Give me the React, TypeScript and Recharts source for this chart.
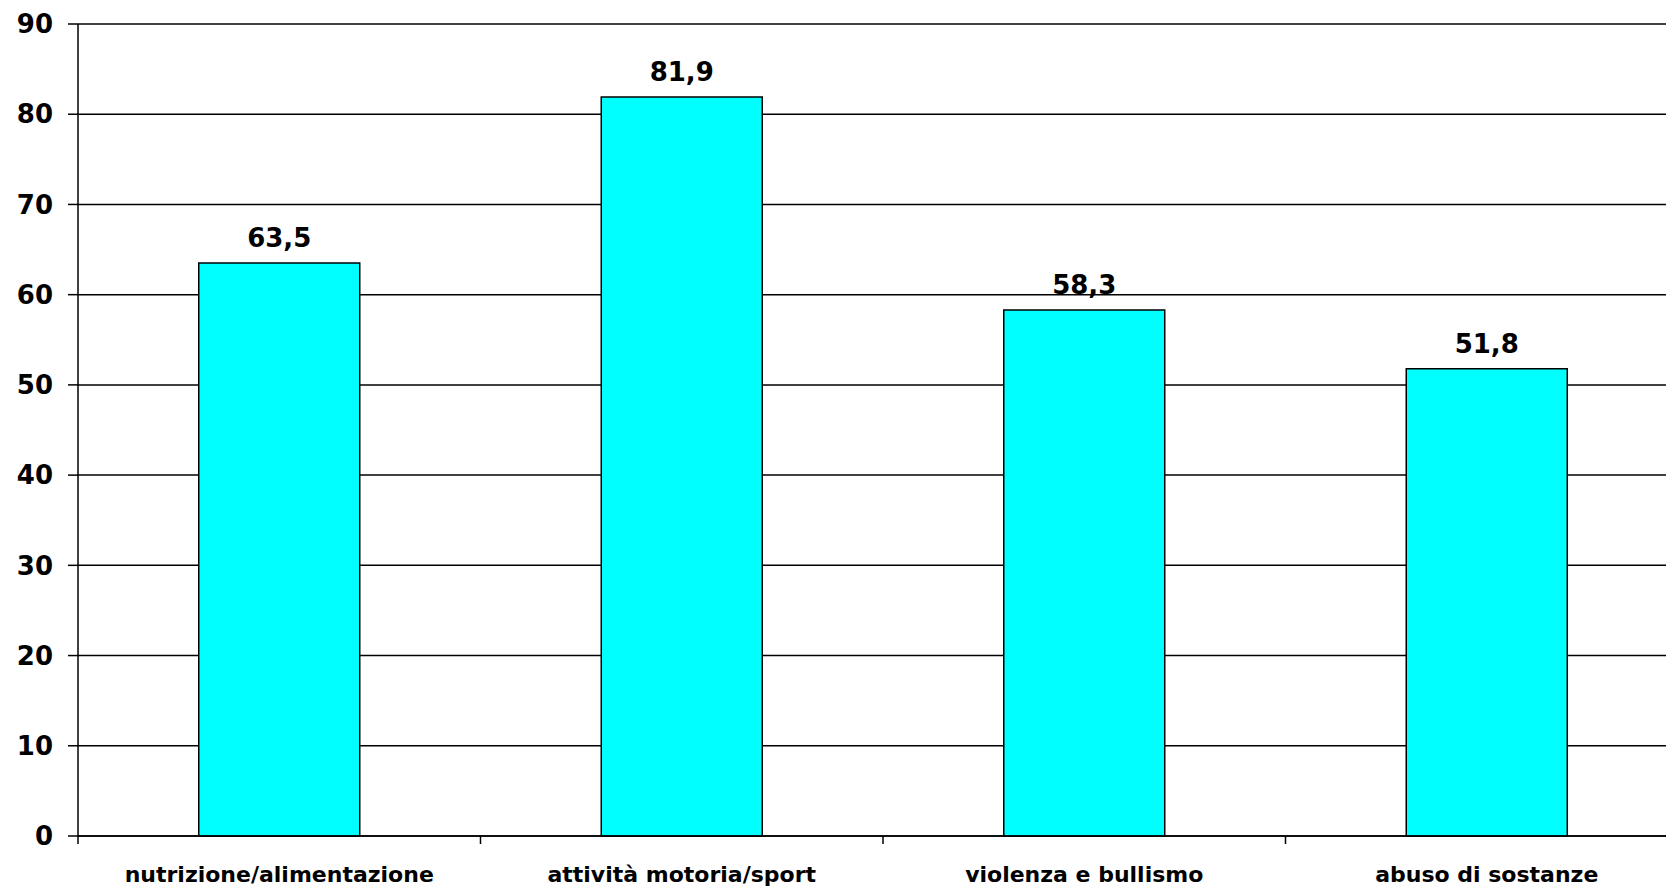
import React from 'react';
import { BarChart, Bar, XAxis, YAxis, CartesianGrid, LabelList } from 'recharts';

const categories = ['nutrizione/alimentazione', 'attività motoria/sport', 'violenza e bullismo', 'abuso di sostanze'];
const percentages = [63.5, 81.9, 58.3, 51.8];
const yTicks = [0, 10, 20, 30, 40, 50, 60, 70, 80, 90];
const boundaryTicks = [0, 1, 2, 3, 4];

const data = categories.map((name, i) => ({ name, value: percentages[i], pos: i + 0.5 }));

const font = '"DejaVu Sans", Verdana, sans-serif';

const formatComma = (v: any) => String(v).replace('.', ',');

export default function App() {
  return (
    <div style={{ position: 'fixed', left: 0, top: 0, width: 1666, height: 888, overflow: 'hidden', background: '#fff' }}>
      <BarChart
        width={1700}
        height={888}
        data={data}
        margin={{ top: 24, right: 12, left: 0, bottom: 0 }}
        barCategoryGap="30%"
      >
        <CartesianGrid vertical={false} stroke="#000" strokeWidth={1.5} />
        {/* ticks between the categories */}
        <XAxis
          xAxisId="a"
          type="number"
          dataKey="pos"
          domain={[0, 4]}
          ticks={boundaryTicks}
          interval={0}
          tickSize={8}
          tickFormatter={() => ''}
          stroke="#000"
          strokeWidth={1.5}
          height={1}
        />
        <XAxis
          dataKey="name"
          xAxisId="b"
          tickLine={false}
          axisLine={false}
          height={51}
          tickMargin={23}
          interval={0}
          tick={{ fill: '#000', fontSize: 22, fontWeight: 'bold', fontFamily: font }}
        />
        <YAxis
          width={78}
          domain={[0, 90]}
          ticks={yTicks}
          interval={0}
          tickSize={10}
          tickMargin={15}
          stroke="#000"
          strokeWidth={1.5}
          tick={{ fill: '#000', fontSize: 26, fontWeight: 'bold', fontFamily: font }}
        />
        <Bar dataKey="value" xAxisId="b" fill="#00FFFF" stroke="#000" strokeWidth={1.5} isAnimationActive={false}>
          <LabelList
            dataKey="value"
            position="top"
            offset={16}
            formatter={formatComma}
            style={{ fill: '#000', fontSize: 26, fontWeight: 'bold', fontFamily: font }}
          />
        </Bar>
      </BarChart>
    </div>
  );
}
